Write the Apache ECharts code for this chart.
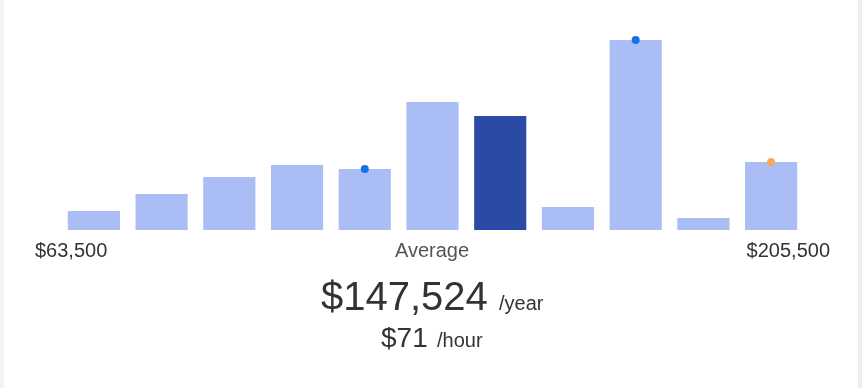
<!DOCTYPE html>
<html>
<head>
<meta charset="utf-8">
<script src="https://cdn.jsdelivr.net/npm/echarts@6/dist/echarts.min.js"></script>
<style>
html,body{margin:0;padding:0;background:#fff;}
#c{width:862px;height:388px;}
</style>
</head>
<body>
<div id="c"></div>
<script>
var categories = ['b1','b2','b3','b4','b5','b6','b7','b8','b9','b10','b11'];
var barValues = [19, 36, 53, 65, 61, 128, 114, 23, 190, 12, 68];
var highlightIndex = 6;
var blueDots = [4, 8];
var orangeDots = [10];
var minLabel = '$63,500';
var maxLabel = '$205,500';
var avgLabel = 'Average';
var avgYear = '$147,524';
var avgHour = '$71';

var chart = echarts.init(document.getElementById('c'));
var FONT = '"Liberation Sans", Arial, sans-serif';

var barData = barValues.map(function (v, i) {
  return {
    value: v,
    itemStyle: { color: i === highlightIndex ? '#2a4aa5' : '#aabdf4' }
  };
});

chart.setOption({
  animation: false,
  backgroundColor: '#ffffff',
  grid: { left: 60, right: 57, top: 40, bottom: 158 },
  xAxis: {
    type: 'category',
    data: categories,
    axisLine: { show: false },
    axisTick: { show: false },
    axisLabel: { show: false },
    splitLine: { show: false }
  },
  yAxis: {
    type: 'value',
    min: 0,
    max: 190,
    show: false,
    splitLine: { show: false }
  },
  series: [
    {
      type: 'bar',
      data: barData,
      barCategoryGap: '23%',
      silent: true
    },
    {
      type: 'scatter',
      symbolSize: 8,
      itemStyle: { color: '#1273e6', opacity: 1 },
      data: blueDots.map(function (i) { return [i, barValues[i]]; }),
      z: 5
    },
    {
      type: 'scatter',
      symbolSize: 8,
      itemStyle: { color: '#f7a95c', opacity: 1 },
      data: orangeDots.map(function (i) { return [i, barValues[i]]; }),
      z: 5
    }
  ],
  graphic: [
    { type: 'rect', left: 0, top: 0, shape: { width: 4, height: 388 }, style: { fill: '#f3f4f6' }, silent: true },
    { type: 'rect', left: 858, top: 0, shape: { width: 4, height: 388 }, style: { fill: '#eeeeee' }, silent: true },
    { type: 'text', x: 35, y: 251, style: { text: minLabel, font: '20px ' + FONT, fill: '#333333', textAlign: 'left', textVerticalAlign: 'middle' } },
    { type: 'text', x: 432, y: 251, style: { text: avgLabel, font: '20px ' + FONT, fill: '#555555', textAlign: 'center', textVerticalAlign: 'middle' } },
    { type: 'text', x: 830, y: 251, style: { text: maxLabel, font: '20px ' + FONT, fill: '#333333', textAlign: 'right', textVerticalAlign: 'middle' } },
    { type: 'text', x: 321, y: 299, style: { text: avgYear, font: '40px ' + FONT, fill: '#333333', textAlign: 'left', textVerticalAlign: 'middle' } },
    { type: 'text', x: 499, y: 304, style: { text: '/year', font: '20px ' + FONT, fill: '#333333', textAlign: 'left', textVerticalAlign: 'middle' } },
    { type: 'text', x: 381, y: 339, style: { text: avgHour, font: '28px ' + FONT, fill: '#333333', textAlign: 'left', textVerticalAlign: 'middle' } },
    { type: 'text', x: 437, y: 341, style: { text: '/hour', font: '20px ' + FONT, fill: '#333333', textAlign: 'left', textVerticalAlign: 'middle' } }
  ]
});
</script>
</body>
</html>
